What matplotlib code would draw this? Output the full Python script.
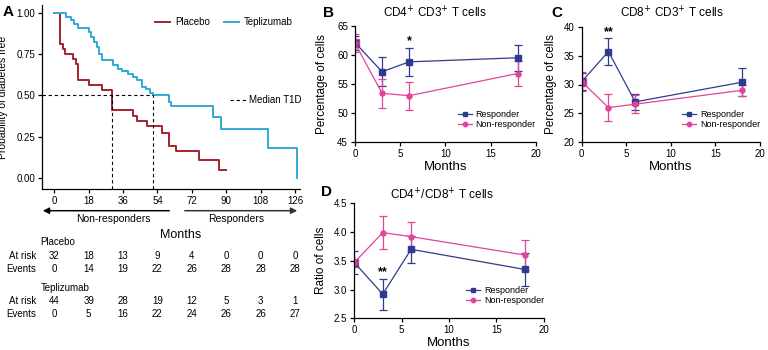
import matplotlib
matplotlib.use("Agg")
import matplotlib.pyplot as plt
import matplotlib.transforms as mtransforms
from matplotlib.lines import Line2D

plt.rcParams['font.family'] = ['Liberation Sans', 'DejaVu Sans']

# ---- panel A: Kaplan-Meier (months, probability diabetes free) ----
plac_time = [0, 3.0, 4.4, 5.6, 9.6, 11.4, 12.6, 18.3, 24.8, 30.3, 41.0, 43.1, 48.6,
             56.2, 60.1, 63.7, 75.9, 86.2, 89.9]
plac_surv = [1.0, 0.81, 0.78, 0.75, 0.72, 0.69, 0.59, 0.5625, 0.53, 0.41, 0.375, 0.344,
             0.3125, 0.27, 0.19, 0.16, 0.11, 0.05, 0.05]
tep_time = [0, 6.4, 8.6, 10.3, 12.5, 18.3, 19.5, 20.8, 22.2, 23.5, 24.8, 30.9, 33.5, 35.3,
            38.7, 41.0, 43.1, 45.7, 48.0, 50.1, 51.8, 60.1, 61.0, 83.3, 87.1, 112.0, 127.0]
tep_surv = [1.0, 0.977, 0.955, 0.932, 0.909, 0.886, 0.855, 0.82, 0.79, 0.75, 0.715, 0.685,
            0.66, 0.645, 0.63, 0.61, 0.59, 0.55, 0.535, 0.515, 0.5, 0.46, 0.432, 0.37,
            0.295, 0.182, 0.0]
plac_median = 30.3
tep_median = 51.8

risk_months = [0, 18, 36, 54, 72, 90, 108, 126]
plac_at_risk = [32, 18, 13, 9, 4, 0, 0, 0]
plac_events = [0, 14, 19, 22, 26, 28, 28, 28]
tep_at_risk = [44, 39, 28, 19, 12, 5, 3, 1]
tep_events = [0, 5, 16, 22, 24, 26, 26, 27]

# ---- panels B-D ----
months = [0, 3, 6, 18]
cd4_resp = [62.1, 57.1, 58.8, 59.5]
cd4_resp_err = [1.2, 2.5, 2.4, 2.2]
cd4_nr = [62.0, 53.4, 53.0, 56.8]
cd4_nr_err = [1.5, 2.5, 2.4, 2.2]
cd8_resp = [30.5, 35.7, 27.0, 30.4]
cd8_resp_err = [1.5, 2.3, 1.4, 2.4]
cd8_nr = [30.5, 26.0, 26.6, 29.0]
cd8_nr_err = [1.7, 2.4, 1.6, 1.0]
ratio_resp = [3.47, 2.92, 3.70, 3.35]
ratio_resp_err = [0.20, 0.27, 0.24, 0.28]
ratio_nr = [3.47, 3.99, 3.92, 3.60]
ratio_nr_err = [0.05, 0.29, 0.25, 0.26]

RED = '#a5232d'
TEAL = '#2eaad9'
NAVY = '#2f3b8f'
PINK = '#e2449a'

W, H = 768, 350
fig = plt.figure(figsize=(7.68, 3.5), dpi=100)


def fx(x):
    return x / W


def fy(y):
    return 1 - y / H


def box(l, t, r, b):
    return [l / W, 1 - b / H, (r - l) / W, (b - t) / H]


def style(ax):
    for s in ['top', 'right']:
        ax.spines[s].set_visible(False)
    for s in ['left', 'bottom']:
        ax.spines[s].set_linewidth(0.9)
    ax.tick_params(length=3, width=0.9, pad=2, labelsize=7)


# ---------------- A ----------------
axA = fig.add_axes(box(42, 5, 300, 189))
style(axA)
axA.step(plac_time, plac_surv, where='post', color=RED, lw=1.4, label='Placebo')
axA.step(tep_time, tep_surv, where='post', color=TEAL, lw=1.4, label='Teplizumab')
axA.set_xlim(-6.4, 128.6)
axA.set_ylim(-0.068, 1.047)
ymin = axA.get_ylim()[0]
axA.plot([-6.4, tep_median], [0.5, 0.5], color='k', lw=0.8, dashes=(3, 2.5))
axA.plot([plac_median, plac_median], [ymin, 0.5], color='k', lw=0.8, dashes=(3, 2.5))
axA.plot([tep_median, tep_median], [ymin, 0.5], color='k', lw=0.8, dashes=(3, 2.5))
axA.set_xticks(risk_months)
axA.set_yticks([0, 0.25, 0.5, 0.75, 1.0])
axA.set_yticklabels(['0.00', '0.25', '0.50', '0.75', '1.00'])
axA.set_ylabel('Probability of diabetes free', fontsize=7.5)
axA.yaxis.set_label_coords((8.5 - 42) / 258, 0.5)
leg1 = axA.legend(loc='center', bbox_to_anchor=(0.705, 0.908), ncol=2, frameon=False,
                  fontsize=7, handlelength=1.6, columnspacing=1.4, handletextpad=0.5)
axA.add_artist(leg1)
axA.legend(handles=[Line2D([], [], color='k', lw=0.8, dashes=(3, 2.5))], labels=['Median T1D'],
           loc='center left', bbox_to_anchor=(0.715, 0.484), frameon=False, fontsize=7,
           handlelength=1.6, handletextpad=0.3, borderaxespad=0)

fig.text(fx(8), fy(12), 'A', fontsize=11, fontweight='bold', va='center', ha='center')

# arrows and labels under panel A
axA.annotate('', xy=(fx(40), fy(210.7)), xytext=(fx(172), fy(210.7)), xycoords='figure fraction',
             arrowprops=dict(arrowstyle='-|>', lw=1.1, color='k', mutation_scale=9))
axA.annotate('', xy=(fx(300), fy(210.7)), xytext=(fx(182), fy(210.7)), xycoords='figure fraction',
             arrowprops=dict(arrowstyle='-|>', lw=1.1, color='#333333', mutation_scale=9))
fig.text(fx(113), fy(219.5), 'Non-responders', fontsize=7.5, ha='center', va='center')
fig.text(fx(236), fy(219.5), 'Responders', fontsize=7.5, ha='center', va='center')
fig.text(fx(181), fy(235), 'Months', fontsize=9, ha='center', va='center')

trans = mtransforms.blended_transform_factory(axA.transData, fig.transFigure)
rows = [('Placebo', None, 242.3), ('At risk', plac_at_risk, 255.7), ('Events', plac_events, 269),
        ('Teplizumab', None, 288.3), ('At risk', tep_at_risk, 301), ('Events', tep_events, 314.3)]
for name, vals, ypx in rows:
    if vals is None:
        fig.text(fx(40.5), fy(ypx), name, fontsize=7, ha='left', va='center')
        continue
    fig.text(fx(36), fy(ypx), name, fontsize=7, ha='right', va='center')
    for t, v in zip(risk_months, vals):
        axA.text(t, fy(ypx), str(v), transform=trans, fontsize=7, ha='center', va='center')


# ---------------- B, C, D ----------------
def panel(rect, resp, resp_err, nr, nr_err, ylim, yticks, ylabel, label_x, stars, star_at, fmt):
    ax = fig.add_axes(rect)
    style(ax)
    ax.errorbar(months, resp, yerr=resp_err, color=NAVY, marker='s', ms=4.2, lw=0.9,
                elinewidth=0.9, capsize=3, capthick=0.9)
    ax.errorbar(months, nr, yerr=nr_err, color=PINK, marker='o', ms=3.6, lw=0.9,
                elinewidth=0.9, capsize=3, capthick=0.9)
    ax.plot(months[:1], nr[:1], 's', color=PINK, ms=5.2)
    ax.set_xlim(0, 20)
    ax.set_ylim(*ylim)
    ax.set_xticks([0, 5, 10, 15, 20])
    ax.set_yticks(yticks)
    ax.set_yticklabels([fmt.format(v) for v in yticks])
    ax.set_ylabel(ylabel, fontsize=8.5)
    ax.yaxis.set_label_coords(label_x, 0.5)
    ax.set_xlabel('Months', fontsize=9.5, labelpad=1)
    rng = ylim[1] - ylim[0]
    i = months.index(star_at)
    ax.text(star_at, resp[i] + resp_err[i] + 0.055 * rng, stars, ha='center', va='center',
            fontsize=9, fontweight='bold')
    handles = [Line2D([], [], color=NAVY, marker='s', ms=3.5, lw=0.9),
               Line2D([], [], color=PINK, marker='o', ms=3.2, lw=0.9)]
    ax.legend(handles, ['Responder', 'Non-responder'], loc='lower right',
              bbox_to_anchor=(1.02, 0.08), frameon=False, fontsize=6.5, handlelength=1.6,
              handletextpad=0.4, labelspacing=0.15, borderaxespad=0)
    return ax


panel(box(355, 25.7, 535.7, 142.3), cd4_resp, cd4_resp_err, cd4_nr, cd4_nr_err,
      (45, 65), [45, 50, 55, 60, 65], 'Percentage of cells', -0.15, '*', 6, '{:.0f}')
panel(box(581.7, 26.7, 760, 142.3), cd8_resp, cd8_resp_err, cd8_nr, cd8_nr_err,
      (20, 40), [20, 25, 30, 35, 40], 'Percentage of cells', -0.14, '**', 3, '{:.0f}')
panel(box(354.3, 203.3, 543.7, 318.3), ratio_resp, ratio_resp_err, ratio_nr, ratio_nr_err,
      (2.5, 4.5), [2.5, 3.0, 3.5, 4.0, 4.5], 'Ratio of cells', -0.146, '**', 3, '{:.1f}')

fig.text(fx(435), fy(13.3), 'CD4$^{+}$ CD3$^{+}$ T cells', fontsize=8.5, ha='center', va='center')
fig.text(fx(671.7), fy(13.3), 'CD8$^{+}$ CD3$^{+}$ T cells', fontsize=8.5, ha='center', va='center')
fig.text(fx(441.7), fy(195), 'CD4$^{+}$/CD8$^{+}$ T cells', fontsize=8.5, ha='center', va='center')
fig.text(fx(329), fy(13), 'B', fontsize=11, fontweight='bold', ha='center', va='center')
fig.text(fx(557), fy(13), 'C', fontsize=11, fontweight='bold', ha='center', va='center')
fig.text(fx(327), fy(191.7), 'D', fontsize=11, fontweight='bold', ha='center', va='center')

fig.savefig('out.png', dpi=100)
